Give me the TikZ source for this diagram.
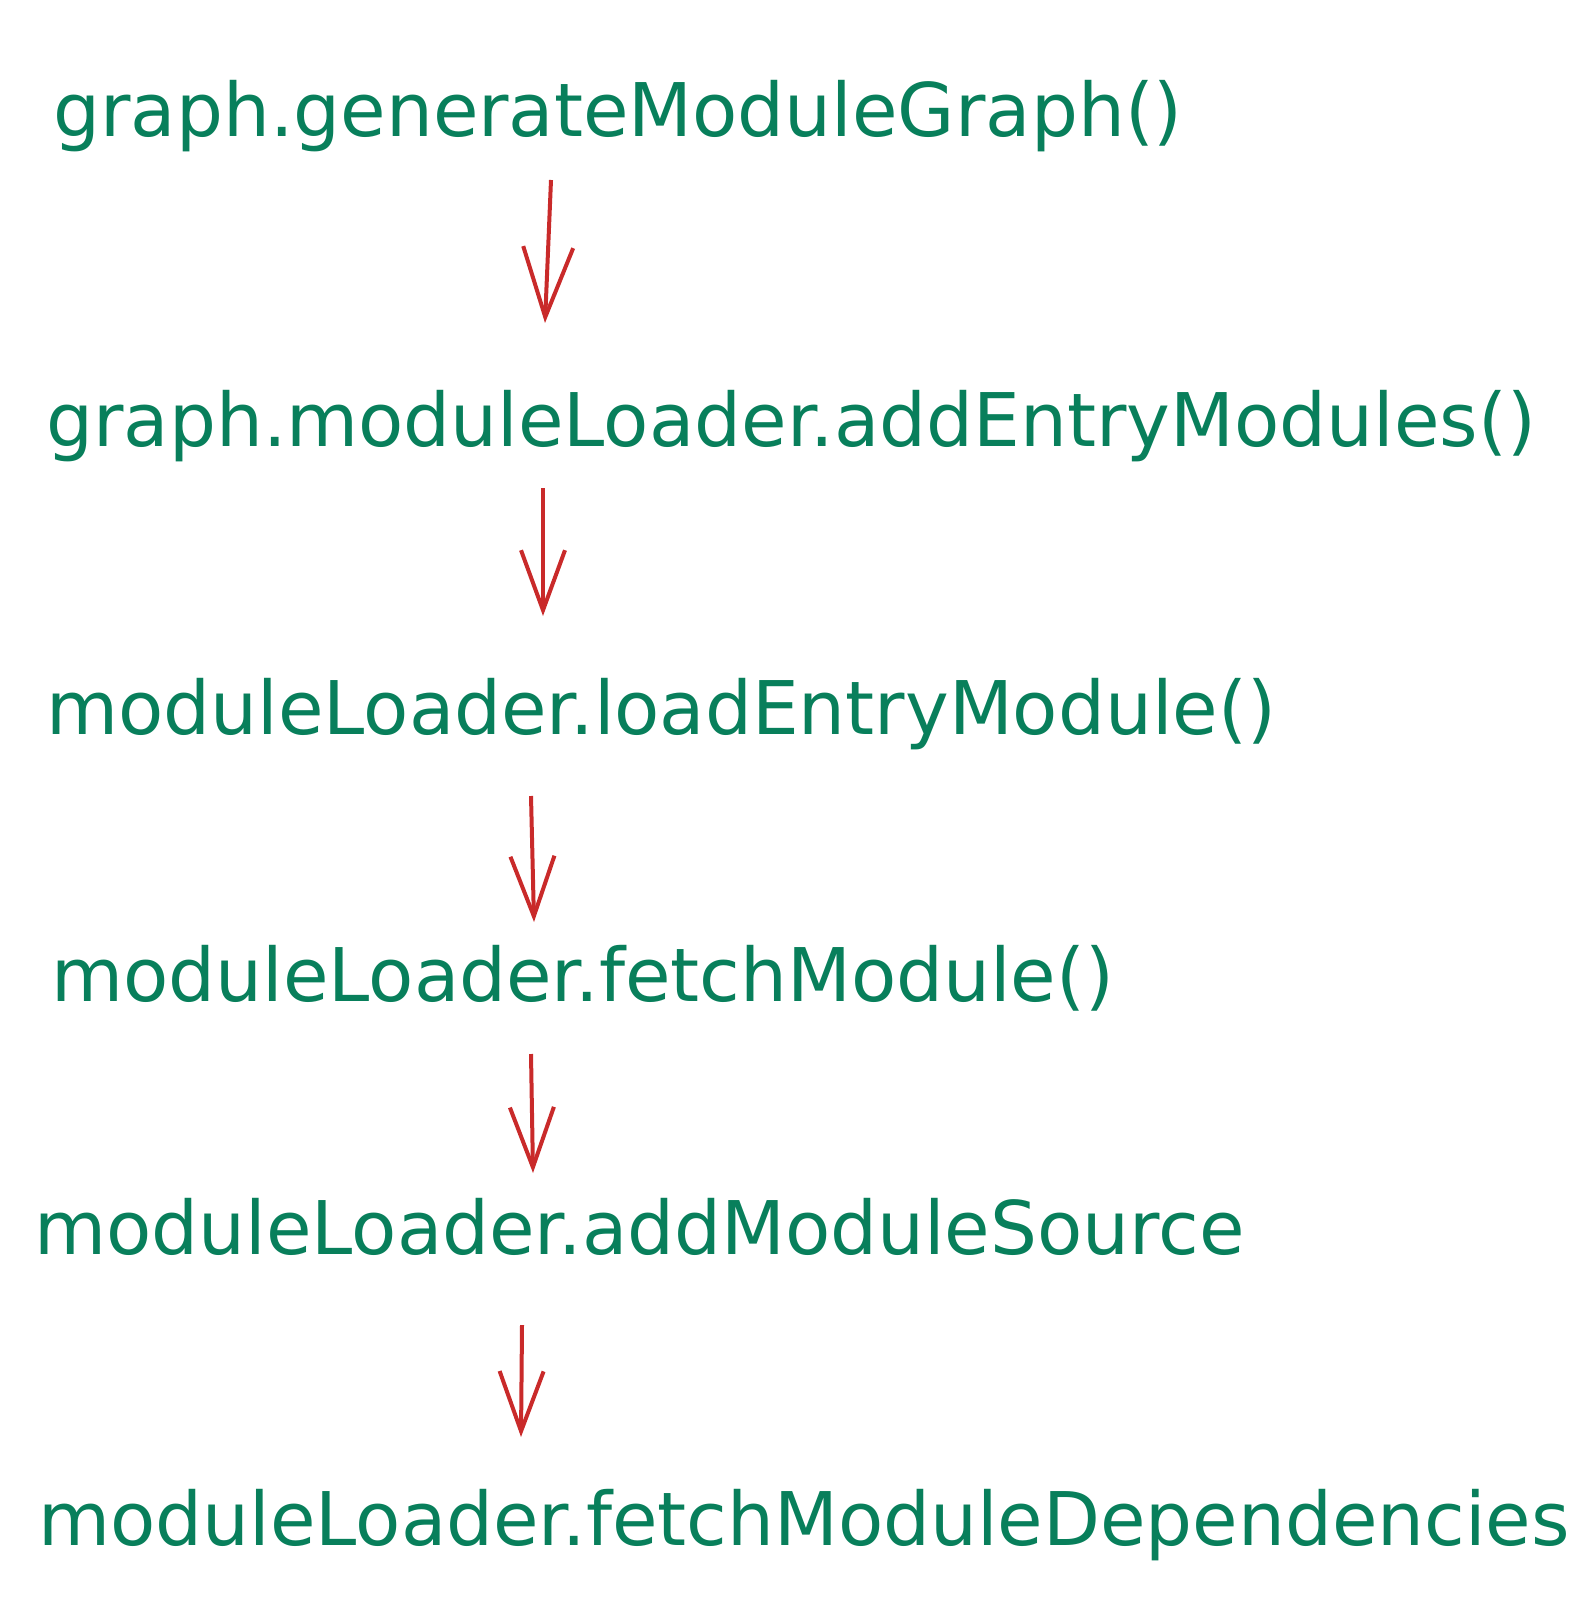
\documentclass[tikz,border=0pt]{standalone}
\usepackage{fontspec}
\setmainfont{DejaVu Sans}
\usepackage{xcolor}
\usetikzlibrary{arrows.meta}
\definecolor{callgreen}{HTML}{087f5b}
\definecolor{callred}{HTML}{c92a2a}

\tikzset{
    call/.style = {anchor = base west, inner sep = 0pt, text = callgreen,
                   font = \fontsize{37}{41}\selectfont},
    flow/.style = {draw = callred, line width = 2pt,
                   -{Straight Barb[length = 30pt, width = 22pt]}}
}

\begin{document}
\begin{tikzpicture}[x = 0.5pt, y = -0.5pt]
        \useasboundingbox (0, 0) rectangle (1591, 1609);

        % Nodes
        \node [call] (gen) at (53, 137) {graph.generateModuleGraph()};
        \node [call] (addentry) at (46, 446) {graph.moduleLoader.addEntryModules()};
        \node [call] (loadentry) at (46, 734) {moduleLoader.loadEntryModule()};
        \node [call] (fetch) at (51, 1001) {moduleLoader.fetchModule()};
        \node [call] (source) at (34, 1254) {moduleLoader.addModuleSource};
        \node [call] (deps) at (38, 1545) {moduleLoader.fetchModuleDependencies};

        % Arrow ends
        \coordinate (s1) at (551, 180);
        \coordinate (e1) at (545, 323);
        \coordinate (s2) at (543, 488);
        \coordinate (e2) at (543, 616);
        \coordinate (s3) at (531, 796);
        \coordinate (e3) at (534, 922);
        \coordinate (s4) at (531, 1054);
        \coordinate (e4) at (533, 1173);
        \coordinate (s5) at (522, 1325);
        \coordinate (e5) at (521, 1437);

        % Lines
        \draw [flow, -{Straight Barb[length = 35pt, width = 25pt]}] (s1) -- (e1);
        \draw [flow] (s2) -- (e2);
        \draw [flow] (s3) -- (e3);
        \draw [flow] (s4) -- (e4);
        \draw [flow] (s5) -- (e5);

    \end{tikzpicture}
\end{document}
